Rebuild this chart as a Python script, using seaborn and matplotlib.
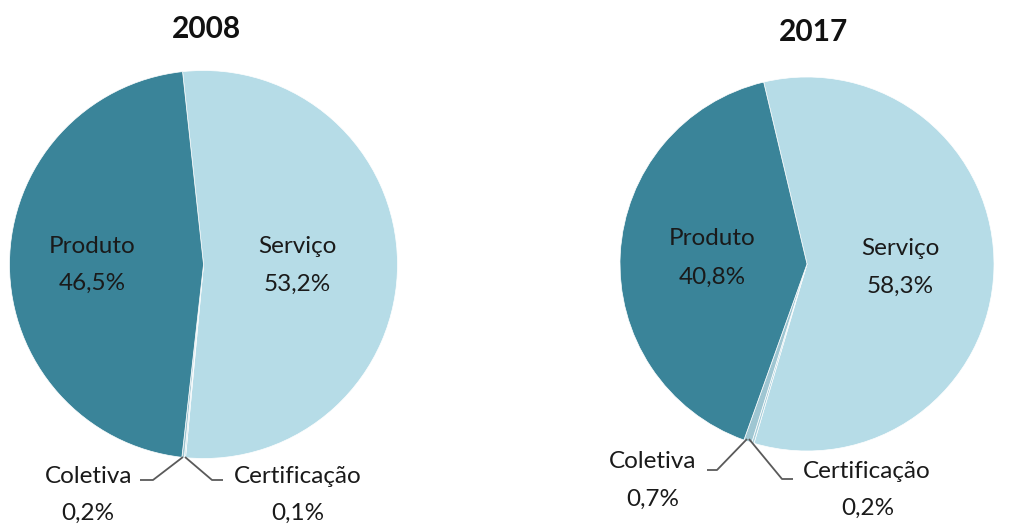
import numpy as np
import matplotlib
matplotlib.use("Agg")
import matplotlib.pyplot as plt
import seaborn as sns

# ---- data ----
categories = ["Serviço", "Certificação", "Coletiva", "Produto"]
years = ["2008", "2017"]
values_2008 = [53.2, 0.1, 0.2, 46.5]
values_2017 = [58.3, 0.2, 0.7, 40.8]
pct_labels_2008 = ["53,2%", "0,1%", "0,2%", "46,5%"]
pct_labels_2017 = ["58,3%", "0,2%", "0,7%", "40,8%"]

colors = ["#b6dce7", "#a9cfda", "#9fc6d2", "#3a8499"]

sns.set_theme(style="white")
plt.rcParams["font.family"] = ["Lato", "DejaVu Sans"]

W, H = 1024, 529
fig = plt.figure(figsize=(W / 100, H / 100), dpi=100)
ax = fig.add_axes([0, 0, 1, 1])
ax.set_xlim(0, W)
ax.set_ylim(0, H)
ax.set_aspect("equal")
ax.axis("off")

def Y(py):
    return H - py

txt = "#1a1a1a"
line_c = "#5a5a5a"
FS = 17.5

pies = [
    dict(vals=values_2008, labs=pct_labels_2008, year=years[0], c=(203.5, 264.5), r=194,
         start=96.2, title=(206, 29),
         big=[(297, 253, 291), None, None, (92, 253, 290)],
         small={1: dict(pts=[(185, 457), (212, 480), (223, 480)], name=(297.5, 483), pct=(298, 520)),
                2: dict(pts=[(183, 457), (153, 480), (140, 480)], name=(88.5, 483), pct=(87.5, 520))}),
    dict(vals=values_2017, labs=pct_labels_2017, year=years[1], c=(807, 264), r=187,
         start=103.4, title=(814, 32),
         big=[(900, 255, 293), None, None, (712.5, 245, 284)],
         small={1: dict(pts=[(749, 439), (782, 479), (793, 479)], name=(867, 478), pct=(868, 515)),
                2: dict(pts=[(747, 439), (717, 470), (707, 470)], name=(652.5, 468), pct=(652.5, 506))}),
]

for p in pies:
    cx, cy = p["c"]
    wedges, _ = ax.pie(p["vals"], colors=colors, startangle=p["start"], counterclock=False,
                       center=(cx, Y(cy)), radius=p["r"], frame=True,
                       wedgeprops=dict(edgecolor="white", linewidth=0.5))
    ax.text(p["title"][0], Y(p["title"][1]), p["year"], ha="center", va="center",
            fontsize=21.5, fontweight="bold", color="#111111")
    for i, b in enumerate(p["big"]):
        if b is None:
            continue
        x, yb1, yb2 = b
        ax.text(x, Y(yb1), categories[i], ha="center", va="baseline", fontsize=FS, color=txt)
        ax.text(x, Y(yb2), p["labs"][i], ha="center", va="baseline", fontsize=FS, color=txt)
    for i, s in p["small"].items():
        xs = [q[0] for q in s["pts"]]
        ys = [Y(q[1]) for q in s["pts"]]
        ax.plot(xs, ys, color=line_c, lw=1.3, solid_capstyle="butt")
        ax.text(s["name"][0], Y(s["name"][1]), categories[i], ha="center", va="baseline",
                fontsize=FS, color=txt)
        ax.text(s["pct"][0], Y(s["pct"][1]), p["labs"][i], ha="center", va="baseline",
                fontsize=FS, color=txt)

ax.set_xlim(0, W)
ax.set_ylim(0, H)
ax.axis("off")
fig.savefig("out.png", dpi=100, facecolor="white")
